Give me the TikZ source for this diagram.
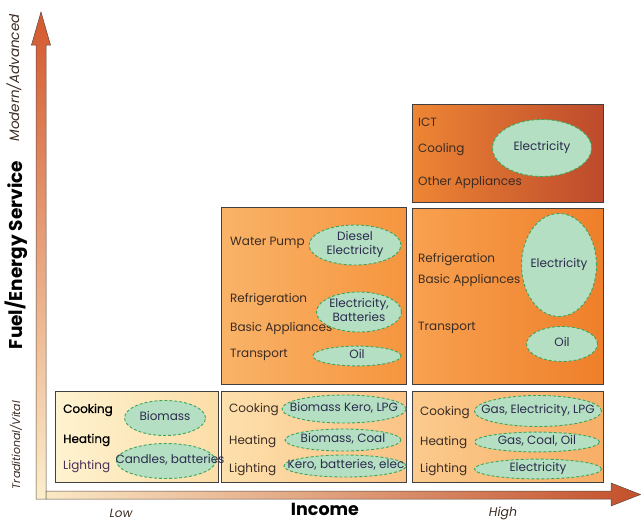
\documentclass[tikz,border=0pt]{standalone}
\usepackage{fontspec}
\setmainfont{Poppins}
\newfontfamily\semib{Poppins}[FakeBold=0.8]
\usetikzlibrary{shapes.geometric}
\definecolor{labc}{HTML}{3B2C24}
\definecolor{ellt}{HTML}{2B2B4E}
\definecolor{ellf}{HTML}{B5DFC2}
\definecolor{elld}{HTML}{3BA55C}
\definecolor{boxd}{HTML}{404040}
\definecolor{axd}{HTML}{5A4A40}
\newcommand{\ctext}[1]{\makebox[0pt]{\begin{tabular}{@{}c@{}}#1\end{tabular}}}
\begin{document}
\begin{tikzpicture}[x=1pt,y=-1pt,
  lab/.style={anchor=west, inner sep=0pt, font=\fontsize{12}{14}\selectfont, text=labc},
  ell/.style={ellipse, draw=elld, densely dashed, line width=0.9pt, fill=ellf, inner sep=0pt,
    font=\fontsize{12}{14}\selectfont, text=ellt},
  panel/.style={draw=boxd, line width=1pt},
  axlab/.style={font=\fontsize{18.5}{20}\selectfont\bfseries, text=black, inner sep=0pt},
  axsmall/.style={font=\fontsize{13.5}{15}\selectfont\itshape, text=labc, inner sep=0pt}]
\useasboundingbox (0,0) rectangle (641,523);
% axes
\draw[draw=axd, line width=0.5pt, bottom color={rgb,255:red,252;green,239;blue,203}, top color={rgb,255:red,212;green,88;blue,46}]
  (36,499) -- (36,45) -- (31.5,45) -- (41,12) -- (50.5,45) -- (46,45) -- (46,499) -- cycle;
\draw[draw=axd, line width=0.5pt, left color={rgb,255:red,250;green,232;blue,197}, right color={rgb,255:red,196;green,80;blue,43}]
  (46,491) -- (611,491) -- (611,483) -- (640.5,494.5) -- (611,506) -- (611,499) -- (46,499) -- cycle;
% panels
\draw[panel, left color={rgb,255:red,254;green,243;blue,208}, right color={rgb,255:red,252;green,221;blue,168}] (55,391) rectangle (218,482);
\draw[panel, left color={rgb,255:red,253;green,224;blue,172}, right color={rgb,255:red,251;green,195;blue,135}] (221,391) rectangle (406,482);
\draw[panel, left color={rgb,255:red,251;green,203;blue,142}, right color={rgb,255:red,248;green,174;blue,102}] (412,391) rectangle (603,482);
\draw[panel, left color={rgb,255:red,249;green,179;blue,104}, right color={rgb,255:red,246;green,149;blue,63}] (221,207) rectangle (406,384);
\draw[panel, left color={rgb,255:red,248;green,161;blue,80}, right color={rgb,255:red,239;green,127;blue,42}] (412,208) rectangle (603,384);
\draw[panel, left color={rgb,255:red,238;green,134;blue,52}, right color={rgb,255:red,189;green,74;blue,44}] (412,104) rectangle (603,202);
% axis labels
\node[axlab, rotate=90] (yl) at (16,255) {Fuel/Energy Service};
\node[axsmall, rotate=90] (ym) at (14,78) {Modern/Advanced};
\node[axsmall, rotate=90, font=\fontsize{11}{12}\selectfont\itshape] (yt) at (16,445) {Traditional/Vital};
\node[axlab, font=\fontsize{17.5}{19}\selectfont\bfseries] (xl) at (325,509) {Income};
\node[axsmall, font=\fontsize{12}{13}\selectfont\itshape] (xlo) at (121,513) {Low};
\node[axsmall, font=\fontsize{12.5}{13}\selectfont\itshape] (xhi) at (503,513) {High};
% box A
\node[lab, text=black, font=\fontsize{12}{14}\semib] (a1) at (63,410) {Cooking};
\node[lab, text=black, font=\fontsize{12}{14}\semib] (a2) at (63,440) {Heating};
\node[lab, text={rgb,255:red,75;green,45;blue,90}] (a3) at (63,467) {Lighting};
\node[ell, minimum width=81pt, minimum height=35pt] (ae1) at (165,418) {\ctext{Biomass}};
\node[ell, minimum width=99pt, minimum height=35pt] (ae2) at (166,461) {\ctext{\hspace*{8pt}Candles, batteries}};
% box B
\node[lab] (b1) at (229,410) {Cooking};
\node[lab] (b2) at (229,442) {Heating};
\node[lab] (b3) at (229,470) {Lighting};
\node[ell, minimum width=124pt, minimum height=28pt] (be1) at (344,409) {\ctext{Biomass Kero, LPG}};
\node[ell, minimum width=116pt, minimum height=22pt] (be2) at (343,440) {\ctext{Biomass, Coal}};
\node[ell, minimum width=122pt, minimum height=22pt] (be3) at (345,466) {\ctext{\hspace*{2pt}Kero, batteries, elec}};
% box C
\node[lab] (c1) at (420,413) {Cooking};
\node[lab] (c2) at (420,443) {Heating};
\node[lab] (c3) at (420,470) {Lighting};
\node[ell, minimum width=127pt, minimum height=31pt] (ce1) at (538,411) {\ctext{Gas, Electricity, LPG}};
\node[ell, minimum width=125pt, minimum height=19pt] (ce2) at (537,442) {\ctext{Gas, Coal, Oil}};
\node[ell, minimum width=127pt, minimum height=15pt] (ce3) at (538,469) {\ctext{Electricity}};
% box D
\node[lab] (d1) at (230,243) {Water Pump};
\node[lab] (d2) at (230,300) {Refrigeration};
\node[lab] (d3) at (230,328) {Basic Appliances};
\node[lab] (d4) at (230,355) {Transport};
\node[ell, minimum width=92pt, minimum height=40pt] (de1) at (355,245) {\ctext{Diesel\\Electricity}};
\node[ell, minimum width=85pt, minimum height=40pt] (de2) at (359,312) {\ctext{Electricity,\\Batteries}};
\node[ell, minimum width=88pt, minimum height=19pt] (de3) at (357,356) {\ctext{Oil}};
% box E
\node[lab] (e1) at (418,260) {Refrigeration};
\node[lab] (e2) at (418,280) {Basic Appliances};
\node[lab] (e3) at (418,328) {Transport};
\node[ell, minimum width=75pt, minimum height=103pt] (ee1) at (559,265) {\ctext{Electricity}};
\node[ell, minimum width=71pt, minimum height=35pt] (ee2) at (562,344) {\ctext{Oil}};
% box F
\node[lab] (f1) at (418,122) {ICT};
\node[lab] (f2) at (418,150) {Cooling};
\node[lab] (f3) at (418,182) {Other Appliances};
\node[ell, minimum width=99pt, minimum height=57pt] (fe1) at (542,148) {\ctext{Electricity}};
\end{tikzpicture}
\end{document}
